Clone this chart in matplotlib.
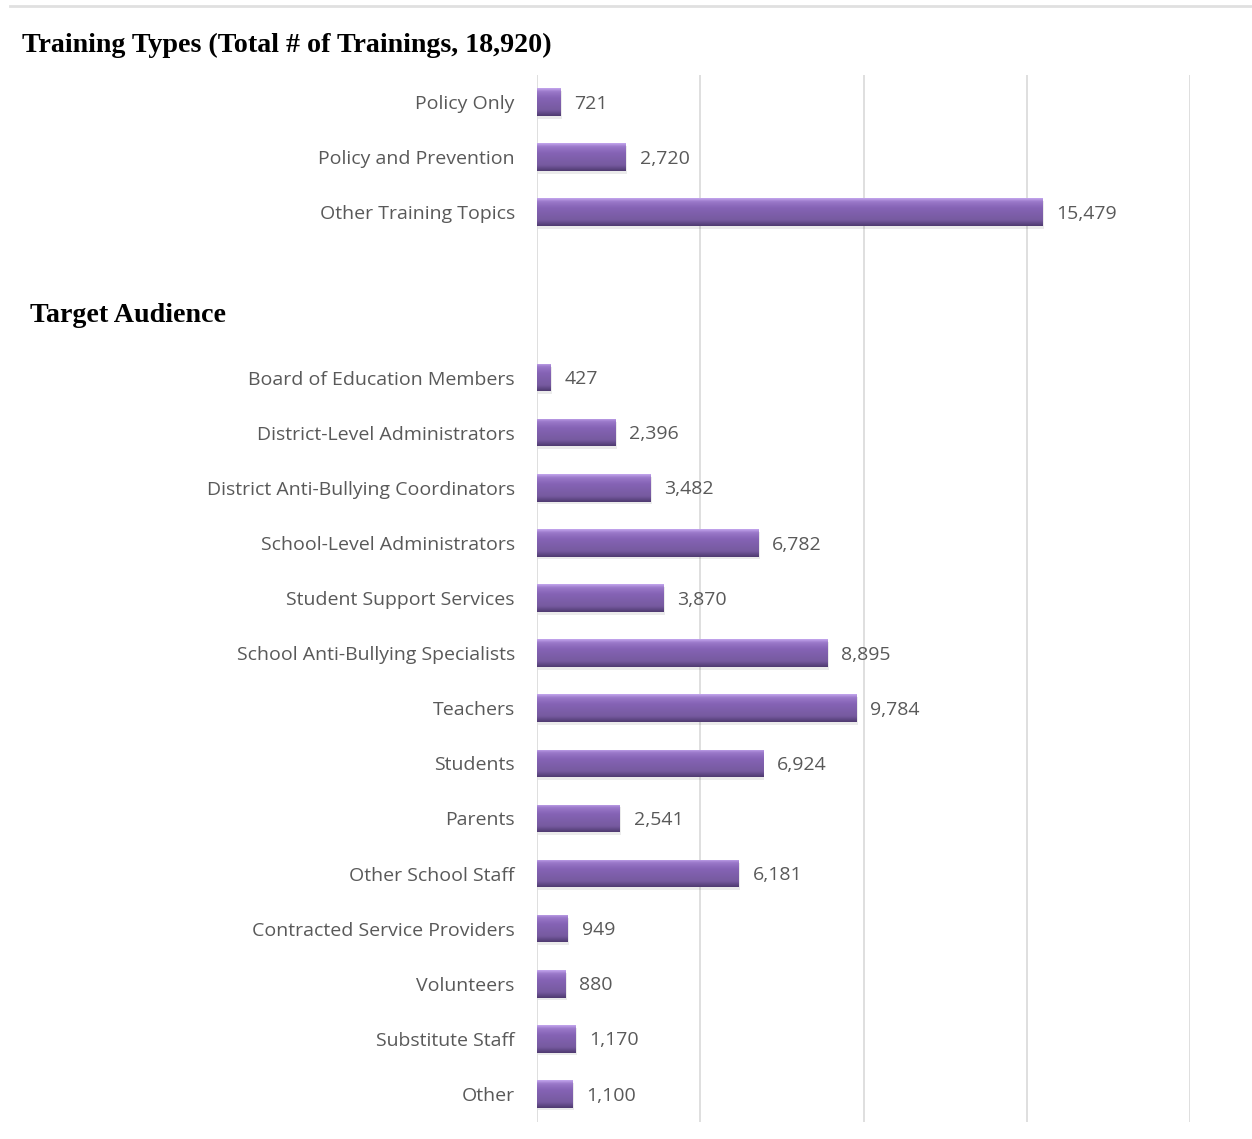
import numpy as np
import matplotlib
matplotlib.use("Agg")
import matplotlib.pyplot as plt
from matplotlib.colors import LinearSegmentedColormap

# Training types (top block)
type_labels = ["Policy Only", "Policy and Prevention", "Other Training Topics"]
type_values = [721, 2720, 15479]

# Target audience (bottom block)
audience_labels = ["Board of Education Members", "District-Level Administrators",
                   "District Anti-Bullying Coordinators", "School-Level Administrators",
                   "Student Support Services", "School Anti-Bullying Specialists",
                   "Teachers", "Students", "Parents", "Other School Staff",
                   "Contracted Service Providers", "Volunteers", "Substitute Staff", "Other"]
audience_values = [427, 2396, 3482, 6782, 3870, 8895, 9784, 6924, 2541, 6181,
                   949, 880, 1170, 1100]

label_font = "Open Sans"
gray = "#595959"

fig = plt.figure(figsize=(12.52, 11.39), dpi=100)
ax = fig.add_axes([537 / 1252, 1 - 1121.5 / 1139, (1190 - 537) / 1252, (1121.5 - 74.5) / 1139])

# positions: 3 rows on top, gap of 3 slots, then audience rows
pos_top = list(range(len(type_values)))
pos_bot = [i + len(type_values) + 2 for i in range(len(audience_values))]
positions = pos_top + pos_bot
labels = type_labels + audience_labels
values = type_values + audience_values

bar_h = 0.5
cmap = LinearSegmentedColormap.from_list(
    "bevel", [(0.0, "#c4a6ee"), (0.12, "#9a78c9"), (0.35, "#8563b5"),
              (0.8, "#765a9f"), (1.0, "#4f3a70")])
grad = np.linspace(0, 1, 64).reshape(-1, 1)

for p, v in zip(positions, values):
    # soft shadow
    ax.barh(p + 0.05, v, height=bar_h, left=40, color="#000000", alpha=0.08,
            zorder=2, linewidth=0)
    b = ax.barh(p, v, height=bar_h, color="#7f5fae", zorder=3, linewidth=0)[0]
    im = ax.imshow(grad, cmap=cmap, aspect="auto", zorder=4,
                   extent=[0, v, p + bar_h / 2, p - bar_h / 2], interpolation="bicubic")
    im.set_clip_path(b)
    ax.text(v + 420, p + 0.03, f"{v:,}", va="center", ha="left", fontsize=14,
            color=gray, family=label_font)

ax.set_xlim(0, 20000)
ax.set_ylim(max(positions) + 0.5, -0.5)
ax.set_xticks([0, 5000, 10000, 15000, 20000])
ax.set_xticklabels([])
ax.set_yticks(positions)
ax.set_yticklabels(labels, fontsize=14, color=gray, family=label_font)
ax.tick_params(axis="both", length=0)
ax.tick_params(axis="y", pad=16)
ax.grid(axis="x", color="#d9d9d9", linewidth=1.2, zorder=0)
ax.set_axisbelow(True)
for s in ax.spines.values():
    s.set_visible(False)

# headings
fig.text(22 / 1252, 1 - 45 / 1139, "Training Types (Total # of Trainings, 18,920)",
         fontsize=20.2, fontweight="bold", family="Liberation Serif", va="center", ha="left")
fig.text(30 / 1252, 1 - 316 / 1139, "Target Audience",
         fontsize=20.2, fontweight="bold", family="Liberation Serif", va="center", ha="left")

# thin rule at the top
fig.add_artist(plt.Line2D([10 / 1252, 1], [1 - 5.5 / 1139] * 2, color="#e0e0e0", linewidth=2))

fig.savefig("out.png", dpi=100)
